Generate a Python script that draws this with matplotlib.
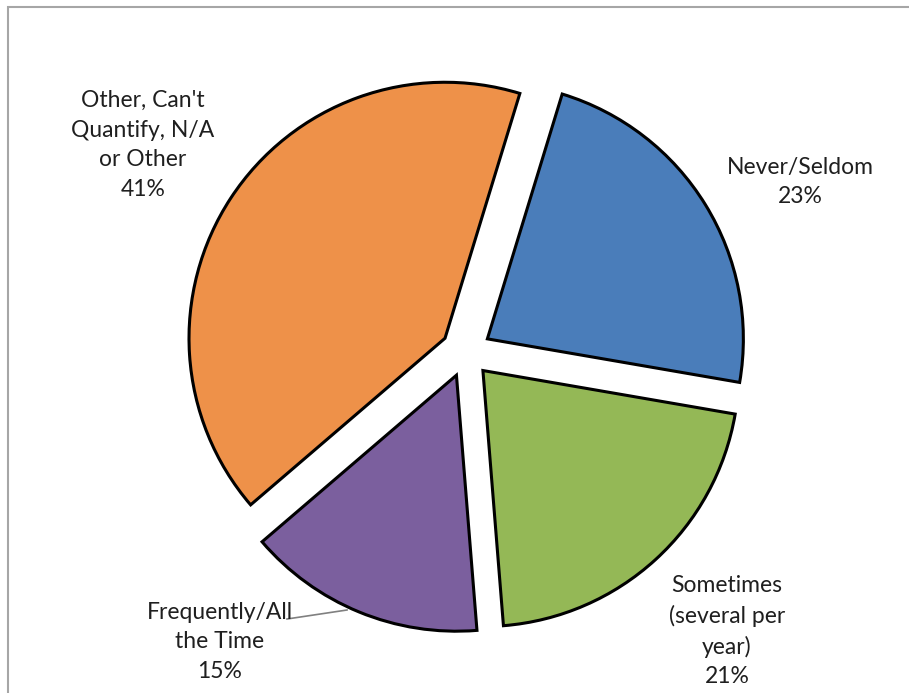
import matplotlib.pyplot as plt
from matplotlib.patches import Rectangle

# survey answers, clockwise from the top
categories = ["Never/Seldom", "Sometimes\n(several per\nyear)", "Frequently/All\nthe Time",
              "Other, Can't\nQuantify, N/A\nor Other"]
values = [23, 21, 15, 41]
colors = ["#4A7DBA", "#94B856", "#7B5F9E", "#EE9149"]

W, H = 909, 693
R = 256.0            # pie radius in pixels
CX, CY = 466, 352    # pie centre in pixels (from top-left)

fig = plt.figure(figsize=(W / 100, H / 100), dpi=100)
ax = fig.add_axes([0, 0, 1, 1])

wedges, _ = ax.pie(values, colors=colors, startangle=73, counterclock=False,
                   explode=[0.098] * 4, radius=1.0,
                   wedgeprops=dict(edgecolor="black", linewidth=2.2, joinstyle="miter"))

ax.set_xlim(-CX / R, (W - CX) / R)
ax.set_ylim(-(H - CY) / R, CY / R)
ax.set_aspect("auto")
ax.axis("off")


def px(x, y):
    # pixel position -> data coords
    return (x - CX) / R, (CY - y) / R


font = dict(family=["Lato", "DejaVu Sans"], fontsize=16.5, color="#1F1F1F",
            ha="center", va="center", linespacing=1.5)
label_pos = [(800, 182), (727, 631), (220, 642), (143, 145)]
for name, v, (lx, ly) in zip(categories, values, label_pos):
    ax.text(*px(lx, ly), f"{name}\n{v}%", **font)

# leader line for the small purple slice
x0, y0 = px(287, 619)
x1, y1 = px(347, 610)
ax.plot([x0, x1], [y0, y1], color="#808080", lw=1.2)

# outer chart frame
fig.patches.append(Rectangle((8 / W, -0.05), 1.1, (H - 7) / H + 0.05,
                             transform=fig.transFigure, fill=False,
                             edgecolor="#A6A6A6", lw=1.5))

fig.savefig("out.png", dpi=100)
